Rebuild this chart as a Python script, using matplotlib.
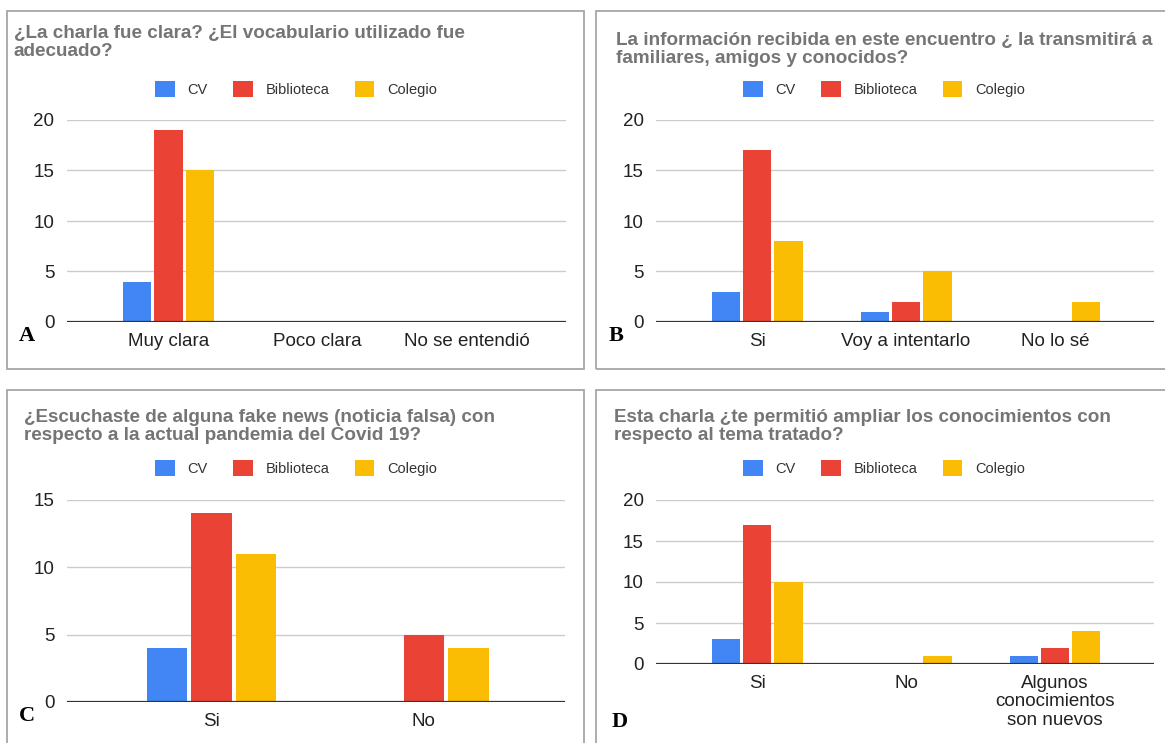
import numpy as np
import matplotlib
matplotlib.use('Agg')
import matplotlib.pyplot as plt
from matplotlib.patches import Rectangle, Patch

# survey answers per group
series_names = ['CV', 'Biblioteca', 'Colegio']
colors = ['#4285F4', '#EA4335', '#FBBC04']

cats_a = ['Muy clara', 'Poco clara', 'No se entendió']
cv_a = [4, 0, 0]
bib_a = [19, 0, 0]
col_a = [15, 0, 0]

cats_b = ['Si', 'Voy a intentarlo', 'No lo sé']
cv_b = [3, 1, 0]
bib_b = [17, 2, 0]
col_b = [8, 5, 2]

cats_c = ['Si', 'No']
cv_c = [4, 0]
bib_c = [14, 5]
col_c = [11, 4]

cats_d = ['Si', 'No', 'Algunos\nconocimientos\nson nuevos']
cv_d = [3, 0, 1]
bib_d = [17, 0, 2]
col_d = [10, 1, 4]

titles = [
    '¿La charla fue clara? ¿El vocabulario utilizado fue\nadecuado?',
    'La información recibida en este encuentro ¿ la transmitirá a\nfamiliares, amigos y conocidos?',
    '¿Escuchaste de alguna fake news (noticia falsa) con\nrespecto a la actual pandemia del Covid 19?',
    'Esta charla ¿te permitió ampliar los conocimientos con\nrespecto al tema tratado?',
]

W, H = 1165, 743
plt.rcParams['font.family'] = ['Liberation Sans', 'DejaVu Sans']
fig = plt.figure(figsize=(W / 100, H / 100), dpi=100)
fig.patch.set_facecolor('white')


def fx(x):
    return x / W


def fy(y):
    return 1 - y / H


def frame(x0, y0, x1, y1):
    fig.patches.append(Rectangle((fx(x0), fy(y1)), fx(x1 - x0), (y1 - y0) / H,
                                 transform=fig.transFigure, fill=False,
                                 edgecolor='#a6a6a6', linewidth=1.3))


def panel(box, cats, values, ymax, title, title_xy, legend_xy, letter, letter_xy):
    left, top, right, bottom = box
    ax = fig.add_axes([fx(left), fy(bottom), fx(right - left), (bottom - top) / H])
    x = np.arange(len(cats))
    width, step = 0.19, 0.21
    for i, (name, vals) in enumerate(zip(series_names, values)):
        ax.bar(x + (i - 1) * step, vals, width=width, color=colors[i], label=name, zorder=2)
    ax.set_xlim(-0.68, len(cats) - 1 + 0.665)
    ax.set_ylim(0, ymax)
    ax.set_yticks(np.arange(0, ymax + 1, 5))
    for t in np.arange(5, ymax + 1, 5):
        ax.axhline(t, color='#cccccc', linewidth=1.0, zorder=1)
    ax.axhline(0, color='#333333', linewidth=1.6, zorder=3)
    ax.set_xticks(x)
    ax.set_xticklabels(cats, fontsize=13.5, color='#222222', linespacing=1.1)
    ax.tick_params(axis='y', length=0, pad=9, labelsize=13.5, labelcolor='#222222')
    ax.tick_params(axis='x', length=0, pad=8)
    for s in ax.spines.values():
        s.set_visible(False)
    ax.patch.set_alpha(0)

    fig.text(fx(title_xy[0]), fy(title_xy[1]), title, fontsize=13.6, fontweight='bold',
             color='#757575', ha='left', va='top', linespacing=1.05)
    handles = [Patch(facecolor=c, edgecolor='none') for c in colors]
    fig.legend(handles, series_names, loc='center',
               bbox_to_anchor=(fx(legend_xy[0]), fy(legend_xy[1])),
               ncol=3, frameon=False, fontsize=10.5, handlelength=1.35,
               handleheight=1.35, handletextpad=0.85, columnspacing=1.75,
               labelcolor='#333333')
    fig.text(fx(letter_xy[0]), fy(letter_xy[1]), letter, fontsize=16, fontweight='bold',
             family='Liberation Serif', color='black', ha='center', va='center')
    return ax


frame(7, 11, 584, 369)
frame(596, 11, 1175, 369)
frame(7, 390, 584, 760)
frame(596, 390, 1175, 760)

panel((67, 120, 566, 322), cats_a, [cv_a, bib_a, col_a], 20, titles[0],
      (14, 25), (296, 89), 'A', (27, 336))
panel((656, 120, 1154, 322), cats_b, [cv_b, bib_b, col_b], 20, titles[1],
      (616, 32), (884, 89), 'B', (616, 336))
panel((67, 500, 565, 702), cats_c, [cv_c, bib_c, col_c], 15, titles[2],
      (24, 409), (296, 468), 'C', (27, 716))
panel((656, 500, 1154, 664), cats_d, [cv_d, bib_d, col_d], 20, titles[3],
      (614, 409), (884, 468), 'D', (620, 722))

fig.savefig('out.png', dpi=100, facecolor='white')
